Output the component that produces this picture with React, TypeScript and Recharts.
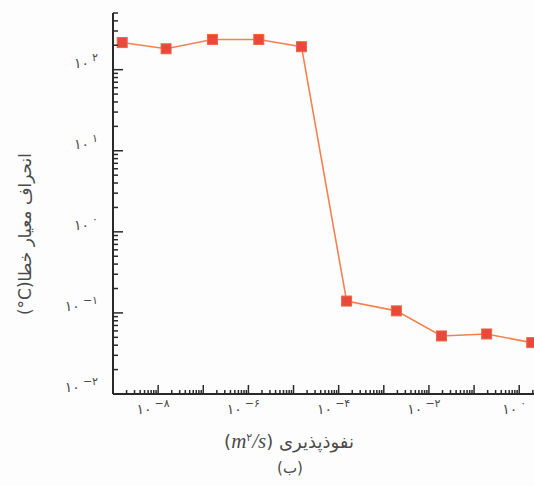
import React from "react";
import { LineChart, Line, XAxis, YAxis } from "recharts";

// diffusivity (m^2/s) vs standard deviation of error (°C)
const diffusivity = [1.6e-9, 1.5e-8, 1.6e-7, 1.7e-6, 1.5e-5, 1.5e-4, 1.9e-3, 1.9e-2, 1.9e-1, 1.9];
const errorStd = [216, 181, 236, 236, 192, 0.14, 0.106, 0.052, 0.055, 0.043];

const xLabelExps = [-8, -6, -4, -2, 0];
const yLabelExps = [-2, -1, 0, 1, 2];

const xDomain = [1e-9, 3.2];
const yDomain = [0.01, 500];

const data = diffusivity.map((x, i) => ({ x, y: errorStd[i] }));

const logTicks = (min: number, max: number) => {
  const out: number[] = [];
  for (let e = Math.floor(Math.log10(min)); e <= Math.ceil(Math.log10(max)); e++) {
    for (let k = 1; k <= 9; k++) {
      const v = k * Math.pow(10, e);
      if (v >= min * 0.999 && v <= max * 1.001) out.push(v);
    }
  }
  return out;
};

const fa = (s: string) =>
  s.replace(/-/g, "\u2212").replace(/[0-9]/g, (d) => "۰۱۲۳۴۵۶۷۸۹"[Number(d)]);

const decade = (v: number) => {
  const e = Math.log10(v);
  return { exp: Math.round(e), major: Math.abs(e - Math.round(e)) < 1e-6 };
};

const axisColor = "#2a2a2a";
const textColor = "#4a4a4a";
const faFont = "'DejaVu Sans', sans-serif";

const XTick = (props: any) => {
  const { x, y, payload } = props;
  const { exp, major } = decade(payload.value);
  const show = major && xLabelExps.includes(exp);
  return (
    <g>
      <line x1={x} x2={x} y1={y} y2={y - (major ? 9 : 4)} stroke={axisColor} strokeWidth={1.5} />
      {show && (
        <text x={x - 5} y={y + 20} textAnchor="middle" fontSize={14} fill={textColor} fontFamily={faFont}>
          {fa("10")}
          <tspan dx={3} dy={-7} fontSize={11}>{fa(String(exp))}</tspan>
        </text>
      )}
    </g>
  );
};

const YTick = (props: any) => {
  const { x, y, payload } = props;
  const { exp, major } = decade(payload.value);
  const show = major && yLabelExps.includes(exp);
  return (
    <g>
      <line x1={x} x2={x + (major ? 10 : 5)} y1={y} y2={y} stroke={axisColor} strokeWidth={1.5} />
      {show && (
        <text x={x - 15} y={y - 2} textAnchor="end" fontSize={14} fill={textColor} fontFamily={faFont}>
          {fa("10")}
          <tspan dx={3} dy={-7} fontSize={11}>{fa(String(exp))}</tspan>
        </text>
      )}
    </g>
  );
};

const SquareDot = (props: any) => {
  const { cx, cy, index } = props;
  return <rect key={index} x={cx - 5} y={cy - 5} width={10} height={10} fill="#e8493d" stroke="#f0653f" strokeWidth={1} />;
};

export default function App() {
  return (
    <div style={{ position: "absolute", left: 0, top: 0, width: 534, height: 486, overflow: "hidden", background: "#fdfdfd" }}>
      <LineChart width={560} height={486} data={data} margin={{ top: 13, right: 18, bottom: 91, left: 112 }}>
        <XAxis
          dataKey="x"
          type="number"
          scale="log"
          domain={xDomain}
          allowDataOverflow
          ticks={logTicks(xDomain[0], xDomain[1])}
          interval={0}
          height={1}
          tickSize={0}
          tickMargin={0}
          tickLine={false}
          tick={<XTick />}
          axisLine={{ stroke: axisColor, strokeWidth: 2 }}
        />
        <YAxis
          type="number"
          scale="log"
          domain={yDomain}
          allowDataOverflow
          ticks={logTicks(yDomain[0], yDomain[1])}
          interval={0}
          width={1}
          tickSize={0}
          tickMargin={0}
          tickLine={false}
          tick={<YTick />}
          axisLine={{ stroke: axisColor, strokeWidth: 2 }}
        />
        <Line
          type="linear"
          dataKey="y"
          stroke="#f7804f"
          strokeWidth={1.6}
          dot={SquareDot}
          isAnimationActive={false}
        />
      </LineChart>
      <div
        dir="rtl"
        style={{
          position: "absolute",
          left: 25,
          top: 234,
          transform: "translate(-50%, -50%) rotate(-90deg)",
          whiteSpace: "nowrap",
          fontFamily: faFont,
          fontSize: 17,
          color: textColor,
        }}
      >
        انحراف معیار خطا(<span dir="ltr" style={{ unicodeBidi: "isolate" }}>°C</span>)
      </div>
      <div
        dir="rtl"
        style={{
          position: "absolute",
          left: 289,
          top: 441,
          transform: "translate(-50%, -50%)",
          whiteSpace: "nowrap",
          fontFamily: faFont,
          fontSize: 18,
          color: textColor,
        }}
      >
        نفوذپذیری (
        <i style={{ fontFamily: "'Liberation Serif', serif", fontSize: 21 }}>m</i>
        <sup style={{ fontSize: 11 }}>۲</sup>
        <i style={{ fontFamily: "'Liberation Serif', serif", fontSize: 21 }}>/s</i>)
      </div>
      <div
        dir="rtl"
        style={{
          position: "absolute",
          left: 290,
          top: 468,
          transform: "translate(-50%, -50%)",
          whiteSpace: "nowrap",
          fontFamily: faFont,
          fontSize: 15,
          color: textColor,
        }}
      >
        (ب)
      </div>
    </div>
  );
}
